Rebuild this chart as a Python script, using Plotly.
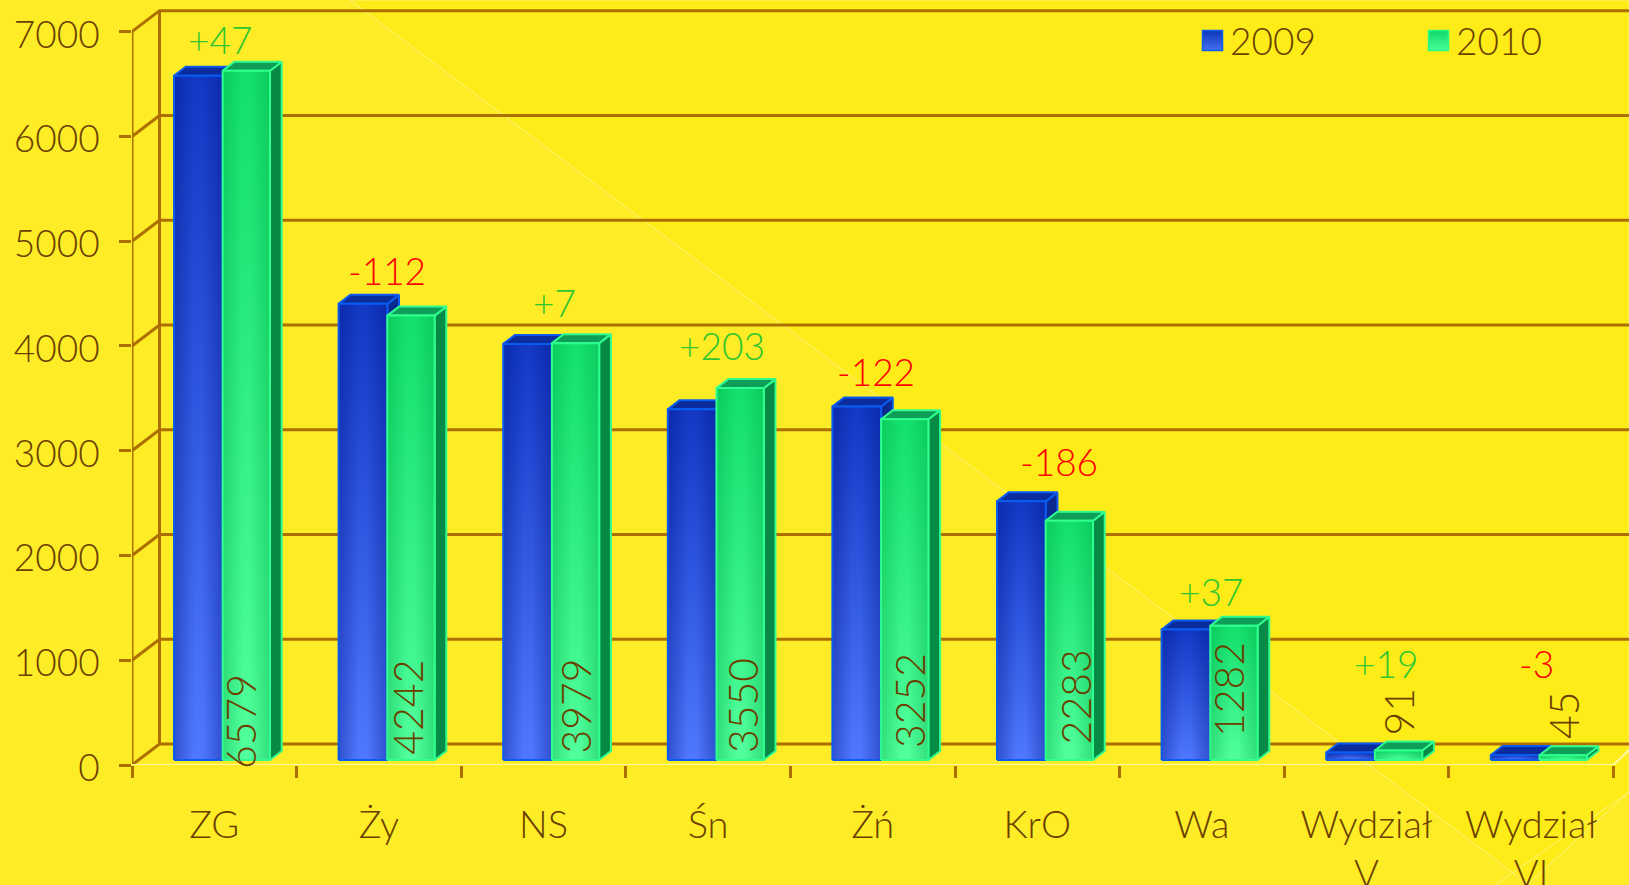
import plotly.graph_objects as go

categories = ["ZG", "Ży", "NS", "Śn", "Żń", "KrO", "Wa", "Wydział<br>V", "Wydział<br>VI"]
values_2009 = [6532, 4354, 3972, 3347, 3374, 2469, 1245, 72, 48]
values_2010 = [6579, 4242, 3979, 3550, 3252, 2283, 1282, 91, 45]
change_labels = ["+47", "-112", "+7", "+203", "-122", "-186", "+37", "+19", "-3"]
y_ticks = [0, 1000, 2000, 3000, 4000, 5000, 6000, 7000]

# pixel frame of the plot
W, H = 1629, 885
X0, CAT = 132.0, 164.6
Y0, PPU = 765.0, 0.10476
def dx(px): return (px - X0) / CAT
def dy(py): return (Y0 - py) / PPU
XMAX = dx(W)
YMAX = dy(0)
def pxp(px): return (px - X0) / (W - X0)
def pyp(py): return (Y0 - py) / Y0

# label placement (pixels)
change_x = [220, 386.7, 554, 721.7, 875.7, 1058.7, 1210.5, 1385.7, 1536.7]
change_y = [39, 270, 302, 345, 371, 461, 591, 663, 663]
value_x = [240, 406.7, 574.6, 742, 909, 1075.4, 1228, 1398, 1563]
value_y = [722, 707, 706, 706, 701, 697, 690, 711.5, 715]

TEXT = "#6A4000"; GRID = "#AD7000"; FONT = "Lato"; WEIGHT = 300
WALL_X, WALL_Y = 27.5 / CAT, 21 / PPU
BASE = 5 / PPU
BLUE_L, BLUE_R = dx(174), dx(222.7)
GREEN_R = dx(270)
SIDE_X, SIDE_Y = 11.7 / CAT, 9 / PPU

fig = go.Figure()

# real bars, underneath the shaded faces
fig.add_bar(x=[i + (BLUE_L + BLUE_R) / 2 for i in range(9)], y=values_2009, base=BASE, width=BLUE_R - BLUE_L, marker_color="#2A55DC", marker_line_width=0, name="2009", showlegend=False, hoverinfo="skip")
fig.add_bar(x=[i + (BLUE_R + GREEN_R) / 2 for i in range(9)], y=values_2010, base=BASE, width=GREEN_R - BLUE_R, marker_color="#25EB7C", marker_line_width=0, name="2010", showlegend=False, hoverinfo="skip")

def poly(xs, ys, line=None, fill=None, grad=None, lw=2):
    kw = dict(x=xs + xs[:1], y=ys + ys[:1], mode="lines", fill="toself", showlegend=False, hoverinfo="skip", cliponaxis=False)
    if line: kw["line"] = dict(color=line, width=lw)
    else: kw["line"] = dict(width=0)
    if grad: kw["fillgradient"] = grad
    else: kw["fillcolor"] = fill
    fig.add_trace(go.Scatter(**kw))

# wall + gridlines
gx, gy = [], []
for t in y_ticks:
    gx += [0, WALL_X, XMAX, None]
    gy += [t, t + WALL_Y, t + WALL_Y, None]
gx += [WALL_X, WALL_X, None, 0, 0, None]
gy += [WALL_Y, 7000 + WALL_Y, None, 0, 7000, None]
fig.add_trace(go.Scatter(x=gx, y=gy, mode="lines", line=dict(color=GRID, width=3), showlegend=False, hoverinfo="skip", cliponaxis=False))
# floor edge
fig.add_trace(go.Scatter(x=[0, 9, XMAX], y=[0, 0, 15 / PPU], mode="lines", line=dict(color="#FFF7A8", width=2), showlegend=False, hoverinfo="skip", cliponaxis=False))

def bar3d(i, v, l, r, top_c, side_c, border, cols, edge):
    x0, x1 = i + l, i + r
    y0, y1 = BASE, BASE + v
    poly([x1, x1 + SIDE_X, x1 + SIDE_X, x1], [y0, y0 + SIDE_Y, y1 + SIDE_Y, y1], line=border, fill=side_c)
    poly([x0, x0 + SIDE_X, x1 + SIDE_X, x1], [y1, y1 + SIDE_Y, y1 + SIDE_Y, y1], line=border, fill=top_c)
    poly([x0, x1, x1, x0], [y0, y0, y1, y1], fill=cols[1], grad=dict(type="vertical", colorscale=[[0, cols[1]], [1, cols[0]]]))
    w = (x1 - x0) * 0.42
    t = "rgba(%s,0)" % edge
    o = "rgba(%s,0.38)" % edge
    poly([x0, x0 + w, x0 + w, x0], [y0, y0, y1, y1], fill=t, grad=dict(type="horizontal", colorscale=[[0, o], [1, t]]))
    poly([x1 - w, x1, x1, x1 - w], [y0, y0, y1, y1], fill=t, grad=dict(type="horizontal", colorscale=[[0, t], [1, o]]))
    fig.add_trace(go.Scatter(x=[x0, x0, x1, x1, x0], y=[y0, y1, y1, y0, y0], mode="lines", line=dict(color=border, width=2), showlegend=False, hoverinfo="skip", cliponaxis=False))

for i in range(9):
    bar3d(i, values_2009[i], BLUE_L, BLUE_R, "#0A2C9C", "#0A2A90", "#0A5CF0", ("#1238C4", "#5078FF"), "0,20,130")
    bar3d(i, values_2010[i], BLUE_R, GREEN_R, "#0E9E58", "#078A45", "#2FFF8F", ("#12E06C", "#52FF9C"), "0,170,70")

# legend
for name, px, c, g, b in [("2009", 1212.5, "#0E35B8", "#4570F0", "#0A60F0"), ("2010", 1438.5, "#10D86A", "#48FF98", "#28FF88")]:
    fig.add_trace(go.Scatter(x=[dx(px)], y=[dy(40.5)], mode="markers", marker=dict(symbol="square", size=20, color=c, gradient=dict(type="vertical", color=g), line=dict(color=b, width=1.5)),
                             showlegend=False, hoverinfo="skip", cliponaxis=False))

ann = []
for name, px in [("2009", 1228), ("2010", 1454)]:
    ann.append(dict(x=dx(px), y=dy(40), text=name, showarrow=False, xanchor="left", yanchor="middle", font=dict(family=FONT, size=37, weight=WEIGHT, color=TEXT)))
for i in range(9):
    ann.append(dict(x=dx(change_x[i]), y=dy(change_y[i]), text=change_labels[i], showarrow=False, xanchor="center", yanchor="middle",
                    font=dict(family=FONT, size=37, weight=WEIGHT, color="#2FC62F" if change_labels[i][0] == "+" else "#FF0000")))
    ann.append(dict(x=dx(value_x[i]), y=dy(value_y[i]), text=str(values_2010[i]), textangle=-90, showarrow=False, xanchor="center", yanchor="middle",
                    font=dict(family=FONT, size=41, weight=WEIGHT, color=TEXT)))

corner = [(350, 0), (W, 0), (W, 792), (1528, 885 - 1)]
path = "M " + " L ".join(f"{pxp(a)},{pyp(b)}" for a, b in corner) + " Z"
path2 = f"M {pxp(W)},{pyp(792)} L {pxp(1495)},{pyp(885)}"

fig.update_layout(
    width=W, height=H, margin=dict(l=X0, r=0, t=0, b=H - Y0, pad=0),
    paper_bgcolor="#FEEC26", plot_bgcolor="rgba(0,0,0,0)", barmode="overlay", showlegend=False,
    font=dict(family=FONT, color=TEXT, size=36),
    xaxis=dict(range=[0, XMAX], tickmode="array", tickvals=[i + 0.5 for i in range(9)], ticktext=categories, ticks="",
               ticklabelstandoff=34, showgrid=False, zeroline=False, showline=False, automargin=False,
               tickfont=dict(family=FONT, size=38, weight=WEIGHT, color=TEXT),
               minor=dict(tickmode="array", tickvals=list(range(10)), ticks="outside", ticklen=12, tickwidth=2.5, tickcolor=GRID, showgrid=False)),
    yaxis=dict(range=[0, YMAX], tickmode="array", tickvals=y_ticks, ticks="outside", ticklen=12, tickwidth=2.5, tickcolor=GRID,
               ticklabelstandoff=12, ticklabelshift=3, showgrid=False, zeroline=False, showline=False, automargin=False,
               tickfont=dict(family=FONT, size=37, weight=WEIGHT, color=TEXT)),
    annotations=ann,
    shapes=[
        dict(type="path", xref="paper", yref="paper", path=path, fillcolor="#FEEC18", line=dict(color="#FFF27A", width=1), layer="below"),
        dict(type="path", xref="paper", yref="paper", path=path2, line=dict(color="#FFF27A", width=1), layer="below"),
    ],
)
fig.write_html("out.html", config={"displayModeBar": False}, post_script="document.body.style.margin='0';document.body.style.overflow='hidden';")
